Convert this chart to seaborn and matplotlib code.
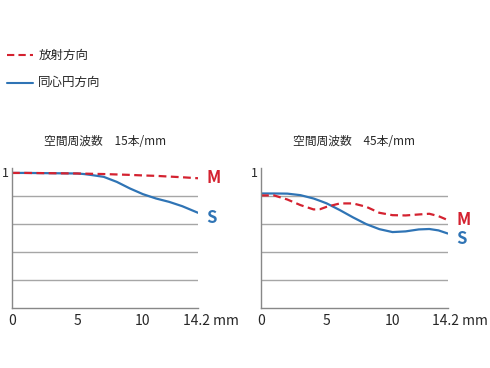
import pandas as pd
import seaborn as sns
from matplotlib import pyplot as plt

# MTF data (image height in mm)
x15 = [0, 1, 2, 3, 4, 5, 5.5, 6, 7, 8, 9, 10, 11, 12, 13, 14.2]
m15 = [0.966, 0.966, 0.965, 0.964, 0.963, 0.962, 0.961, 0.960, 0.958, 0.955, 0.952,
       0.948, 0.945, 0.940, 0.935, 0.928]
s15 = [0.966, 0.966, 0.965, 0.964, 0.963, 0.962, 0.958, 0.952, 0.938, 0.902, 0.855,
       0.814, 0.783, 0.759, 0.728, 0.681]

x45 = [0, 1, 2, 3, 4, 4.5, 5, 6, 7, 8, 9, 10, 11, 12, 12.8, 13.5, 14.2]
m45 = [0.805, 0.805, 0.776, 0.736, 0.705, 0.707, 0.724, 0.748, 0.748, 0.724, 0.681,
       0.664, 0.662, 0.669, 0.674, 0.657, 0.629]
s45 = [0.819, 0.819, 0.818, 0.807, 0.783, 0.766, 0.748, 0.700, 0.648, 0.600, 0.564,
       0.543, 0.548, 0.562, 0.565, 0.555, 0.533]

titles = ["空間周波数　15本/mm", "空間周波数　45本/mm"]
xticks = [0, 5, 10, 14.2]
xticklabels = ["0", "5", "10", ""]
last_label = "14.2 mm"
legend_labels = ["放射方向", "同心円方向"]

red = "#d42230"
blue = "#2f74b5"

sns.set_style("white")
plt.rcParams['font.family'] = ['Noto Sans CJK JP', 'DejaVu Sans']

fig = plt.figure(figsize=(4.9, 3.68), dpi=100)
ax1 = fig.add_axes([0.0245, 0.163, 0.3796, 0.380])
ax2 = fig.add_axes([0.5327, 0.163, 0.381, 0.380])

sets = [(ax1, x15, m15, s15, titles[0]), (ax2, x45, m45, s45, titles[1])]
for ax, x, m, s, t in sets:
    df = pd.DataFrame({"x": x, "M": m, "S": s})
    for yv in [0.2, 0.4, 0.6, 0.8]:
        ax.axhline(yv, color="#a6a6a6", lw=1.0, zorder=0)
    sns.lineplot(data=df, x="x", y="S", ax=ax, color=blue, lw=1.6)
    sns.lineplot(data=df, x="x", y="M", ax=ax, color=red, lw=1.6, linestyle=(0, (3.5, 2)))
    ax.set_xlim(0, 14.2)
    ax.set_ylim(0, 1)
    ax.set_xticks(xticks)
    ax.set_xticklabels(xticklabels, fontsize=10)
    ax.set_yticks([0.975])
    ax.set_yticklabels(["1"], fontsize=9)
    ax.tick_params(length=0, pad=4)
    ax.tick_params(axis="y", pad=2)
    ax.set_xlabel("")
    ax.set_ylabel("")
    for sp in ["top", "right"]:
        ax.spines[sp].set_visible(False)
    for sp in ["left", "bottom"]:
        ax.spines[sp].set_color("#888888")
        ax.spines[sp].set_linewidth(1.0)
    ax.annotate(last_label, xy=(14.2, 0), xycoords=("data", "axes fraction"),
                xytext=(-11, -4), textcoords="offset points", fontsize=10,
                ha="left", va="top", annotation_clip=False)
    ax.set_title(t, fontsize=8.5, pad=17)
    ax.annotate("M", xy=(14.2, m[-1]), xytext=(6, 0), textcoords="offset points",
                color=red, fontsize=12, fontweight="bold", va="center", ha="left")
    ax.annotate("S", xy=(14.2, s[-1]), xytext=(6, -4), textcoords="offset points",
                color=blue, fontsize=12, fontweight="bold", va="center", ha="left")

# legend at top left
fig.lines.append(plt.Line2D([0.014, 0.068], [1 - 55 / 368] * 2, transform=fig.transFigure,
                            color=red, lw=1.5, linestyle=(0, (3.5, 2))))
fig.lines.append(plt.Line2D([0.014, 0.068], [1 - 82.5 / 368] * 2, transform=fig.transFigure,
                            color=blue, lw=1.5))
fig.text(0.078, 1 - 55 / 368, legend_labels[0], fontsize=9, va="center")
fig.text(0.078, 1 - 82.5 / 368, legend_labels[1], fontsize=9, va="center")

fig.savefig("out.png", dpi=100)
